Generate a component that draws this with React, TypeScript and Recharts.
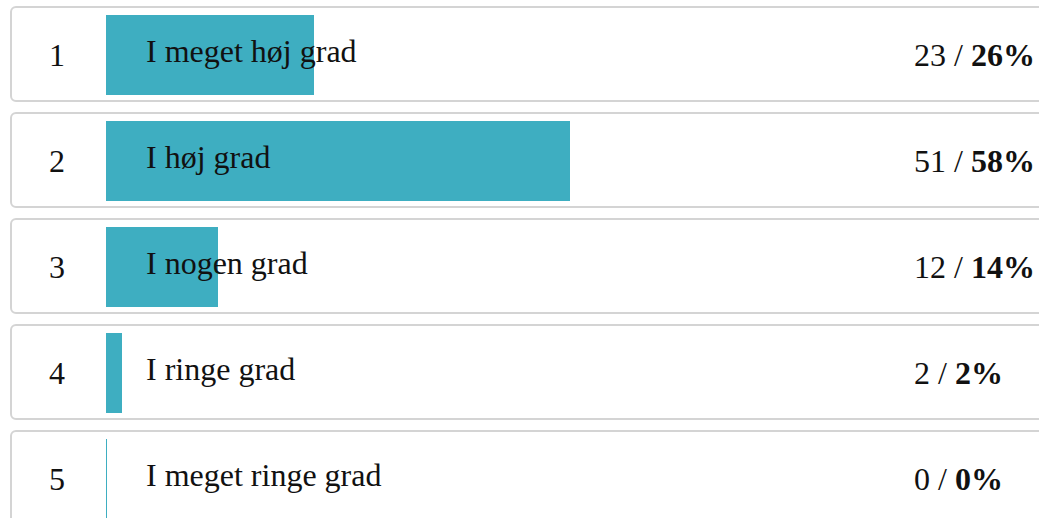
import React from 'react';
import { BarChart, Bar, XAxis, YAxis, LabelList } from 'recharts';

const ranks = ['1', '2', '3', '4', '5'];
const labels = ['I meget høj grad', 'I høj grad', 'I nogen grad', 'I ringe grad', 'I meget ringe grad'];
const counts = [23, 51, 12, 2, 0];
const percents = [26, 58, 14, 2, 0];

const data = labels.map((label, i) => ({
  rank: ranks[i],
  label,
  count: counts[i],
  percent: percents[i],
}));

const FONT = '"Times New Roman", Times, serif';
const BAR_COLOR = '#3eaec1';

// row box + rank number + count/percent, drawn behind the bar
const RowBackground = (props: any) => {
  const { x, y, width, height, index } = props;
  const mid = y + height / 2;
  return (
    <g>
      <rect
        x={x - 95}
        y={y - 8}
        width={1200}
        height={height + 14}
        rx={5}
        ry={5}
        fill="#ffffff"
        stroke="#d4d4d4"
        strokeWidth={2}
      />
      <text x={x - 49} y={mid + 11} textAnchor="middle" fontFamily={FONT} fontSize={32} fill="#111">
        {ranks[index]}
      </text>
      <text x={x + width + 8} y={mid + 11} textAnchor="start" fontFamily={FONT} fontSize={32} fill="#111">
        {counts[index]} / <tspan fontWeight="bold">{percents[index]}%</tspan>
      </text>
    </g>
  );
};

const RowLabel = (props: any) => {
  const { x, y, height, value } = props;
  return (
    <text x={x + 40} y={y + height / 2 + 7} textAnchor="start" fontFamily={FONT} fontSize={32} fill="#111">
      {value}
    </text>
  );
};

export default function App() {
  return (
    <div style={{ position: 'fixed', top: 0, left: 0, width: 1039, height: 518, overflow: 'hidden', background: '#fff' }}>
      <BarChart
        width={1100}
        height={540}
        data={data}
        layout="vertical"
        margin={{ top: 2, right: 194, left: 106, bottom: 8 }}
        barCategoryGap={0}
      >
        <XAxis type="number" domain={[0, 100]} hide />
        <YAxis type="category" dataKey="label" hide />
        <Bar
          dataKey="percent"
          fill={BAR_COLOR}
          barSize={80}
          minPointSize={1}
          background={(p: any) => <RowBackground key={`bg-${p.index}`} {...p} />}
          isAnimationActive={false}
        >
          <LabelList dataKey="label" content={<RowLabel />} />
        </Bar>
      </BarChart>
    </div>
  );
}
